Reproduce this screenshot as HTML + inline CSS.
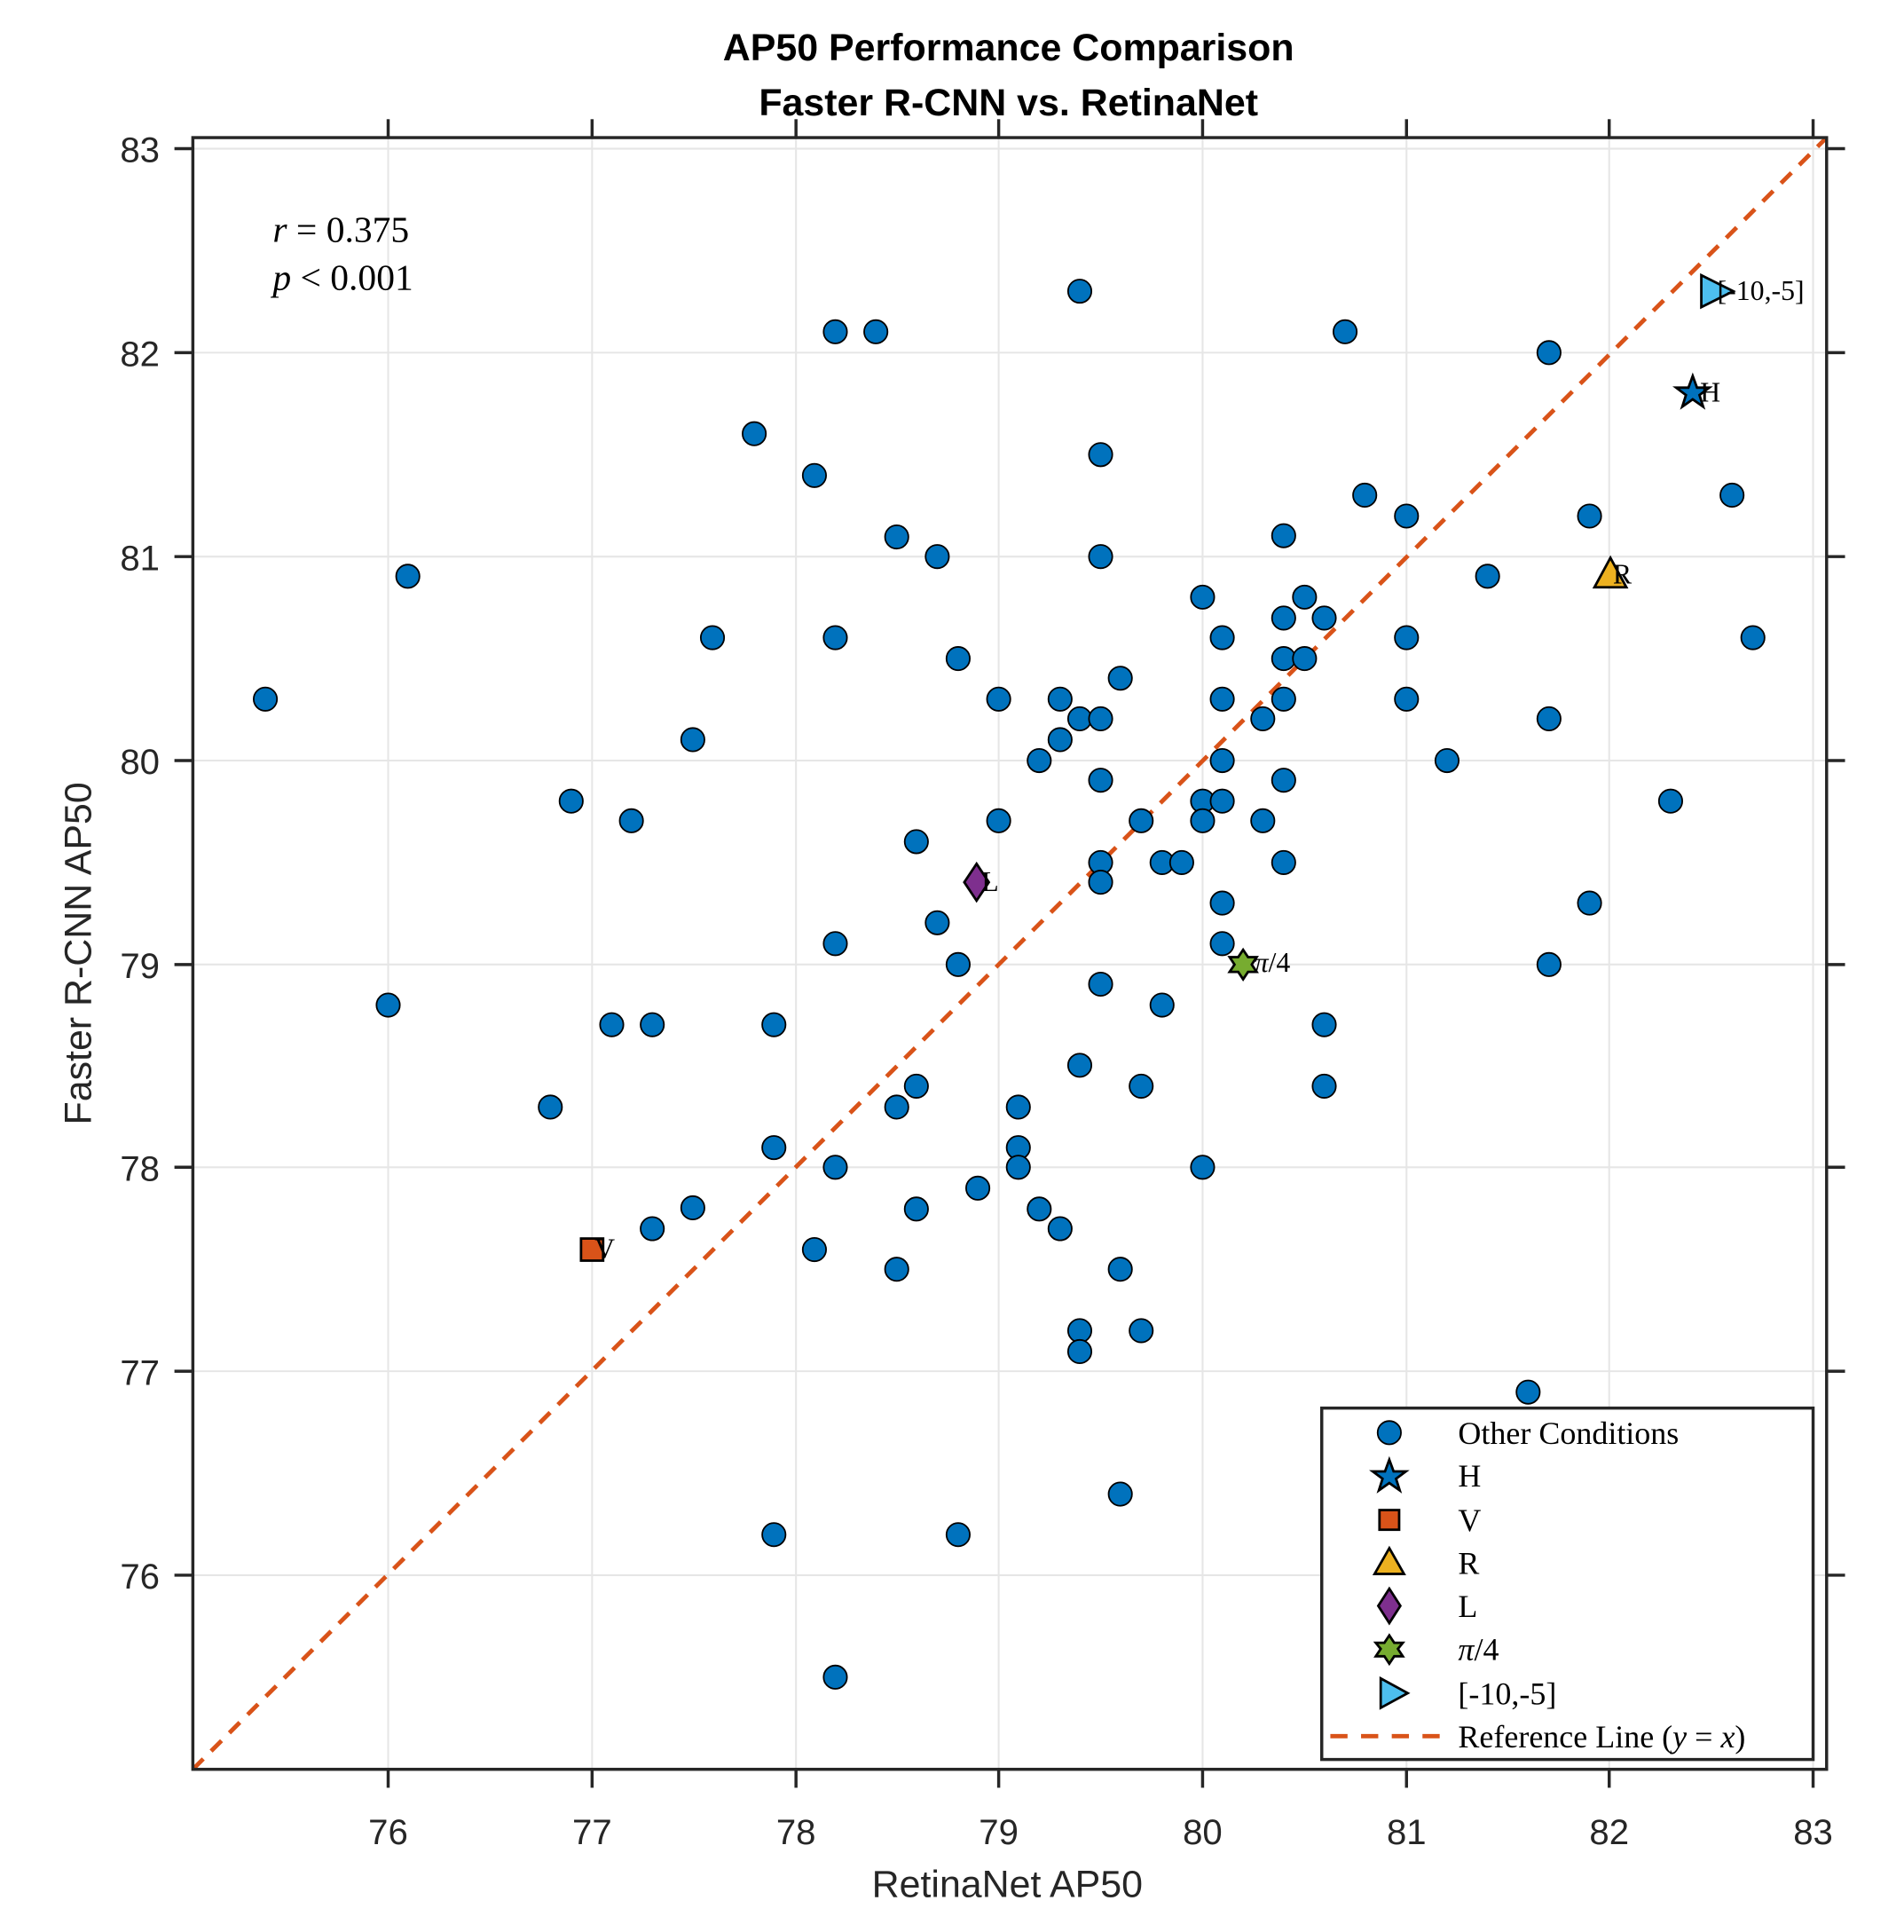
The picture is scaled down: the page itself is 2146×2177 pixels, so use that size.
<!DOCTYPE html>
<html><head><meta charset="utf-8"><style>html,body{margin:0;padding:0;background:#fff}svg{display:block}</style></head>
<body>
<svg width="2146" height="2177" viewBox="0 0 1550 1572.4" preserveAspectRatio="none" xmlns="http://www.w3.org/2000/svg">
<rect width="1550" height="1573" fill="#fff"/>
<g stroke="#e6e6e6" stroke-width="1.5">
<line x1="316" y1="112" x2="316" y2="1440"/><line x1="482" y1="112" x2="482" y2="1440"/><line x1="648" y1="112" x2="648" y2="1440"/><line x1="813" y1="112" x2="813" y2="1440"/><line x1="979" y1="112" x2="979" y2="1440"/><line x1="1145" y1="112" x2="1145" y2="1440"/><line x1="1310" y1="112" x2="1310" y2="1440"/><line x1="1476" y1="112" x2="1476" y2="1440"/>
<line x1="157" y1="121" x2="1487" y2="121"/><line x1="157" y1="287" x2="1487" y2="287"/><line x1="157" y1="453" x2="1487" y2="453"/><line x1="157" y1="619" x2="1487" y2="619"/><line x1="157" y1="785" x2="1487" y2="785"/><line x1="157" y1="950" x2="1487" y2="950"/><line x1="157" y1="1116" x2="1487" y2="1116"/><line x1="157" y1="1282" x2="1487" y2="1282"/>
</g>
<line x1="157" y1="1440" x2="1487" y2="112" stroke="#D95319" stroke-width="3.5" stroke-dasharray="12,9"/>
<g fill="#0072BD" stroke="#000" stroke-width="1.3">
<circle cx="216" cy="569" r="9.5"/><circle cx="332" cy="469" r="9.5"/><circle cx="316" cy="818" r="9.5"/><circle cx="465" cy="652" r="9.5"/><circle cx="448" cy="901" r="9.5"/><circle cx="498" cy="834" r="9.5"/><circle cx="531" cy="834" r="9.5"/><circle cx="514" cy="668" r="9.5"/><circle cx="564" cy="602" r="9.5"/><circle cx="580" cy="519" r="9.5"/><circle cx="564" cy="983" r="9.5"/><circle cx="531" cy="1000" r="9.5"/><circle cx="614" cy="353" r="9.5"/><circle cx="663" cy="387" r="9.5"/><circle cx="680" cy="270" r="9.5"/><circle cx="713" cy="270" r="9.5"/><circle cx="680" cy="519" r="9.5"/><circle cx="680" cy="768" r="9.5"/><circle cx="630" cy="834" r="9.5"/><circle cx="630" cy="934" r="9.5"/><circle cx="680" cy="950" r="9.5"/><circle cx="663" cy="1017" r="9.5"/><circle cx="730" cy="437" r="9.5"/><circle cx="763" cy="453" r="9.5"/><circle cx="780" cy="536" r="9.5"/><circle cx="746" cy="685" r="9.5"/><circle cx="763" cy="751" r="9.5"/><circle cx="780" cy="785" r="9.5"/><circle cx="730" cy="901" r="9.5"/><circle cx="746" cy="884" r="9.5"/><circle cx="746" cy="984" r="9.5"/><circle cx="730" cy="1033" r="9.5"/><circle cx="796" cy="967" r="9.5"/><circle cx="813" cy="569" r="9.5"/><circle cx="813" cy="668" r="9.5"/><circle cx="846" cy="619" r="9.5"/><circle cx="863" cy="569" r="9.5"/><circle cx="863" cy="602" r="9.5"/><circle cx="879" cy="585" r="9.5"/><circle cx="896" cy="585" r="9.5"/><circle cx="879" cy="237" r="9.5"/><circle cx="896" cy="370" r="9.5"/><circle cx="896" cy="453" r="9.5"/><circle cx="896" cy="635" r="9.5"/><circle cx="896" cy="702" r="9.5"/><circle cx="896" cy="718" r="9.5"/><circle cx="896" cy="801" r="9.5"/><circle cx="879" cy="867" r="9.5"/><circle cx="912" cy="552" r="9.5"/><circle cx="929" cy="668" r="9.5"/><circle cx="946" cy="702" r="9.5"/><circle cx="962" cy="702" r="9.5"/><circle cx="946" cy="818" r="9.5"/><circle cx="929" cy="884" r="9.5"/><circle cx="829" cy="901" r="9.5"/><circle cx="829" cy="934" r="9.5"/><circle cx="829" cy="950" r="9.5"/><circle cx="846" cy="984" r="9.5"/><circle cx="863" cy="1000" r="9.5"/><circle cx="912" cy="1033" r="9.5"/><circle cx="879" cy="1083" r="9.5"/><circle cx="879" cy="1100" r="9.5"/><circle cx="929" cy="1083" r="9.5"/><circle cx="912" cy="1216" r="9.5"/><circle cx="630" cy="1249" r="9.5"/><circle cx="780" cy="1249" r="9.5"/><circle cx="680" cy="1365" r="9.5"/><circle cx="979" cy="486" r="9.5"/><circle cx="979" cy="652" r="9.5"/><circle cx="979" cy="668" r="9.5"/><circle cx="995" cy="519" r="9.5"/><circle cx="995" cy="569" r="9.5"/><circle cx="995" cy="619" r="9.5"/><circle cx="995" cy="652" r="9.5"/><circle cx="995" cy="735" r="9.5"/><circle cx="995" cy="768" r="9.5"/><circle cx="979" cy="950" r="9.5"/><circle cx="1028" cy="585" r="9.5"/><circle cx="1028" cy="668" r="9.5"/><circle cx="1045" cy="436" r="9.5"/><circle cx="1045" cy="503" r="9.5"/><circle cx="1045" cy="536" r="9.5"/><circle cx="1045" cy="569" r="9.5"/><circle cx="1045" cy="635" r="9.5"/><circle cx="1045" cy="702" r="9.5"/><circle cx="1062" cy="486" r="9.5"/><circle cx="1062" cy="536" r="9.5"/><circle cx="1078" cy="503" r="9.5"/><circle cx="1078" cy="834" r="9.5"/><circle cx="1078" cy="884" r="9.5"/><circle cx="1095" cy="270" r="9.5"/><circle cx="1111" cy="403" r="9.5"/><circle cx="1145" cy="420" r="9.5"/><circle cx="1145" cy="519" r="9.5"/><circle cx="1145" cy="569" r="9.5"/><circle cx="1178" cy="619" r="9.5"/><circle cx="1211" cy="469" r="9.5"/><circle cx="1261" cy="287" r="9.5"/><circle cx="1261" cy="585" r="9.5"/><circle cx="1261" cy="785" r="9.5"/><circle cx="1244" cy="1133" r="9.5"/><circle cx="1294" cy="420" r="9.5"/><circle cx="1294" cy="735" r="9.5"/><circle cx="1360" cy="652" r="9.5"/><circle cx="1410" cy="403" r="9.5"/><circle cx="1427" cy="519" r="9.5"/>
</g>
<g stroke="#000" stroke-width="2">
<polygon points="1378,306 1381.5,315.5 1391.5,315.5 1383.5,321.5 1386.5,331 1378,325 1369.5,331 1372.5,321.5 1364.5,315.5 1374.5,315.5" fill="#0072BD"/>
<rect x="473" y="1008" width="18" height="18" fill="#D95319"/>
<polygon points="1311,454 1324,478 1298,478" fill="#EDB120"/>
<polygon points="795,703 805,718 795,733 785,718" fill="#7E2F8E"/>
<polygon points="1012,773 1016,779 1023,779 1019,785 1023,791 1016,791 1012,797 1008,791 1001,791 1005,785 1001,779 1008,779" fill="#77AC30"/>
<polygon points="1385,224 1411,237 1385,250" fill="#4DBEEE"/>
</g>
<g font-family="'Liberation Serif',serif" font-size="23" fill="#000">
<text x="1384" y="327">H</text><text x="484" y="1024">V</text><text x="1313" y="475">R</text><text x="799" y="725">L</text><text x="1021" y="791"><tspan font-style="italic">π</tspan>/4</text><text x="1398" y="244">[-10,-5]</text>
</g>
<rect x="157" y="112" width="1330" height="1328" fill="none" stroke="#262626" stroke-width="2.5"/>
<g stroke="#262626" stroke-width="2.5">
<line x1="316" y1="112" x2="316" y2="97"/><line x1="482" y1="112" x2="482" y2="97"/><line x1="648" y1="112" x2="648" y2="97"/><line x1="813" y1="112" x2="813" y2="97"/><line x1="979" y1="112" x2="979" y2="97"/><line x1="1145" y1="112" x2="1145" y2="97"/><line x1="1310" y1="112" x2="1310" y2="97"/><line x1="1476" y1="112" x2="1476" y2="97"/>
<line x1="316" y1="1440" x2="316" y2="1455"/><line x1="482" y1="1440" x2="482" y2="1455"/><line x1="648" y1="1440" x2="648" y2="1455"/><line x1="813" y1="1440" x2="813" y2="1455"/><line x1="979" y1="1440" x2="979" y2="1455"/><line x1="1145" y1="1440" x2="1145" y2="1455"/><line x1="1310" y1="1440" x2="1310" y2="1455"/><line x1="1476" y1="1440" x2="1476" y2="1455"/>
<line x1="157" y1="121" x2="142" y2="121"/><line x1="157" y1="287" x2="142" y2="287"/><line x1="157" y1="453" x2="142" y2="453"/><line x1="157" y1="619" x2="142" y2="619"/><line x1="157" y1="785" x2="142" y2="785"/><line x1="157" y1="950" x2="142" y2="950"/><line x1="157" y1="1116" x2="142" y2="1116"/><line x1="157" y1="1282" x2="142" y2="1282"/>
<line x1="1487" y1="121" x2="1502" y2="121"/><line x1="1487" y1="287" x2="1502" y2="287"/><line x1="1487" y1="453" x2="1502" y2="453"/><line x1="1487" y1="619" x2="1502" y2="619"/><line x1="1487" y1="785" x2="1502" y2="785"/><line x1="1487" y1="950" x2="1502" y2="950"/><line x1="1487" y1="1116" x2="1502" y2="1116"/><line x1="1487" y1="1282" x2="1502" y2="1282"/>
</g>
<g font-family="'Liberation Sans',sans-serif" font-size="29" fill="#262626" text-anchor="middle">
<text x="316" y="1501">76</text><text x="482" y="1501">77</text><text x="648" y="1501">78</text><text x="813" y="1501">79</text><text x="979" y="1501">80</text><text x="1145" y="1501">81</text><text x="1310" y="1501">82</text><text x="1476" y="1501">83</text>
</g>
<g font-family="'Liberation Sans',sans-serif" font-size="29" fill="#262626" text-anchor="end">
<text x="130" y="132">83</text><text x="130" y="298">82</text><text x="130" y="464">81</text><text x="130" y="630">80</text><text x="130" y="796">79</text><text x="130" y="961">78</text><text x="130" y="1127">77</text><text x="130" y="1293">76</text>
</g>
<text x="820" y="1544" font-family="'Liberation Sans',sans-serif" font-size="31" fill="#262626" text-anchor="middle">RetinaNet AP50</text>
<text transform="translate(74,776) rotate(-90)" font-family="'Liberation Sans',sans-serif" font-size="31" fill="#262626" text-anchor="middle">Faster R-CNN AP50</text>
<g font-family="'Liberation Sans',sans-serif" font-size="31" font-weight="bold" fill="#000" text-anchor="middle">
<text x="821" y="49">AP50 Performance Comparison</text><text x="821" y="94">Faster R-CNN vs. RetinaNet</text>
</g>
<g font-family="'Liberation Serif',serif" font-size="30" fill="#000">
<text x="222" y="197"><tspan font-style="italic">r</tspan> = 0.375</text>
<text x="222" y="236"><tspan font-style="italic">p</tspan> &lt; 0.001</text>
</g>
<rect x="1076" y="1146" width="400" height="286" fill="#fff" stroke="#262626" stroke-width="2.5"/>
<g stroke="#000" stroke-width="2">
<circle cx="1131" cy="1166" r="9.5" fill="#0072BD" stroke-width="1.3"/>
<polygon points="1131,1188 1134.5,1197.5 1144.5,1197.5 1136.5,1203.5 1139.5,1213 1131,1207 1122.5,1213 1125.5,1203.5 1117.5,1197.5 1127.5,1197.5" fill="#0072BD"/>
<rect x="1123" y="1229" width="16" height="16" fill="#D95319"/>
<polygon points="1131,1260 1143,1281 1119,1281" fill="#EDB120"/>
<polygon points="1131,1293 1140,1307 1131,1321 1122,1307" fill="#7E2F8E"/>
<polygon points="1131,1331 1135,1337 1142,1337 1138,1342 1142,1348 1135,1348 1131,1354 1127,1348 1120,1348 1124,1342 1120,1337 1127,1337" fill="#77AC30"/>
<polygon points="1124,1366 1146,1378 1124,1390" fill="#4DBEEE"/>
</g>
<line x1="1083" y1="1413" x2="1180" y2="1413" stroke="#D95319" stroke-width="3.5" stroke-dasharray="14,11"/>
<g font-family="'Liberation Serif',serif" font-size="26" fill="#000">
<text x="1187" y="1175">Other Conditions</text><text x="1187" y="1210">H</text><text x="1187" y="1246">V</text><text x="1187" y="1281">R</text><text x="1187" y="1316">L</text><text x="1187" y="1351"><tspan font-style="italic">π</tspan>/4</text><text x="1187" y="1387">[-10,-5]</text><text x="1187" y="1422">Reference Line (<tspan font-style="italic">y</tspan> = <tspan font-style="italic">x</tspan>)</text>
</g>
</svg>
</body></html>
